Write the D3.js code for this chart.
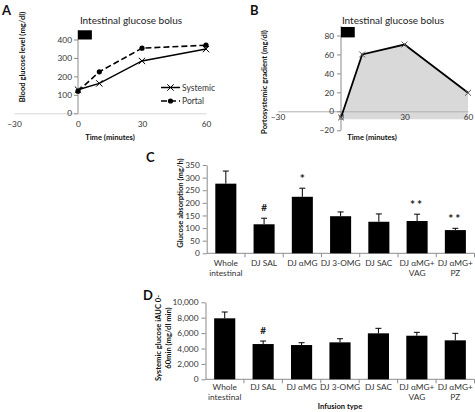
<!DOCTYPE html>
<html><head><meta charset="utf-8">
<script src="https://cdn.jsdelivr.net/npm/d3@7"></script>
<style>
body{margin:0;background:#fff;}
svg text{font-family:Lato, "Open Sans", sans-serif;}
</style></head><body>
<svg id="c" width="475" height="412"></svg>
<script>
// ---------- data ----------
const timeTicks = [-30, 0, 30, 60];
const timePoints = [0, 10, 30, 60];
const systemic = [128, 162, 284, 348];
const portal = [120, 225, 353, 369];
const glucoseTicksA = [0, 100, 200, 300, 400];
const gradientTimes = [0, 10, 30, 60];
const gradient = [-6.5, 60, 70.5, 19.5];
const gradientBase = -8.5;
const gradientTicks = [-20, 0, 20, 40, 60, 80];
const bolusWindow = [0, 6.5];

const categories = ["Whole|intestinal", "DJ SAL", "DJ αMG", "DJ 3-OMG", "DJ SAC", "DJ αMG+|VAG", "DJ αMG+|PZ"];
const absorption = [276, 115, 224, 147, 125, 128, 92];
const absorptionErr = [326, 139, 258, 164, 156, 155, 99];
const absorptionMarks = ["", "#", "*", "", "", "**", "**"];
const absorptionTicks = [0, 50, 100, 150, 200, 250, 300, 350];
const iauc = [7920, 4580, 4450, 4800, 5970, 5660, 5060];
const iaucErr = [8740, 4970, 4750, 5270, 6620, 6100, 5970];
const iaucMarks = ["", "#", "", "", "", "", ""];
const iaucTicks = [0, 2000, 4000, 6000, 8000, 10000];

const svg = d3.select("#c");
const axisCol = "#8c8c8c", txtCol = "#333";
const tickFs = 8.3, labFs = 7.6;

function letter(t, x, y){
  svg.append("text").attr("x", x).attr("y", y).text(t)
    .attr("font-family","Liberation Sans, Arial").attr("font-weight","bold").attr("font-size",13).attr("fill","#111");
}
function styleAxis(g){
  g.selectAll("path,line").attr("stroke", axisCol).attr("stroke-width", 1);
  g.selectAll("text").attr("fill", txtCol).attr("font-size", tickFs).attr("font-family","Lato, sans-serif");
}

// ---------- Panel A ----------
{
  const x = d3.scaleLinear().domain([-30, 60]).range([14, 206]);
  const y = d3.scaleLinear().domain([0, 400]).range([113.3, 39.5]);
  letter("A", 2, 15);
  svg.append("text").attr("x", 131).attr("y", 24).attr("text-anchor","middle").attr("font-size",10).attr("fill","#222").text("Intestinal glucose bolus");
  const gx = svg.append("g").attr("transform", `translate(0,${y(0)})`)
    .call(d3.axisBottom(x).tickValues(timeTicks).tickSize(0).tickPadding(6).tickSizeOuter(0));
  styleAxis(gx);
  gx.select(".domain").attr("stroke","#d8d8d8");
  gx.selectAll(".tick text").attr("dy","0.9em");
  const gy = svg.append("g").attr("transform", `translate(${x(0)},0)`)
    .call(d3.axisLeft(y).tickValues(glucoseTicksA).tickSize(4).tickPadding(2).tickSizeOuter(0));
  styleAxis(gy);
  gy.select(".domain").attr("d", `M0,${y(0)}V${y(450)}`);
  svg.append("rect").attr("x", x(bolusWindow[0])).attr("width", x(bolusWindow[1]) - x(bolusWindow[0]))
    .attr("y", y(450)).attr("height", y(400) - y(450)).attr("fill","#000");
  const line = d3.line().x((d,i)=>x(timePoints[i])).y(d=>y(d));
  svg.append("path").attr("d", line(systemic)).attr("fill","none").attr("stroke","#000").attr("stroke-width",1.5);
  svg.append("path").attr("d", line(portal)).attr("fill","none").attr("stroke","#000").attr("stroke-width",1.6).attr("stroke-dasharray","6,3");
  const xs = d3.symbol(d3.symbolX, 28);
  svg.selectAll(".sx").data(systemic).join("path").attr("d", xs).attr("transform",(d,i)=>`translate(${x(timePoints[i])},${y(d)})`).attr("stroke","#000").attr("fill","none");
  svg.selectAll(".px").data(portal).join("circle").attr("cx",(d,i)=>x(timePoints[i])).attr("cy",d=>y(d)).attr("r",2.6).attr("fill","#000");
  const lg = svg.append("g");
  lg.append("line").attr("x1",161).attr("x2",180).attr("y1",87.5).attr("y2",87.5).attr("stroke","#000").attr("stroke-width",1.5);
  lg.append("path").attr("d", xs).attr("transform","translate(170.5,87.5)").attr("stroke","#000").attr("fill","none");
  lg.append("text").attr("x",182).attr("y",90.5).attr("font-size",8.5).attr("fill",txtCol).text("Systemic");
  lg.append("line").attr("x1",161).attr("x2",180).attr("y1",101).attr("y2",101).attr("stroke","#000").attr("stroke-width",1.6).attr("stroke-dasharray","6,3");
  lg.append("circle").attr("cx",170.5).attr("cy",101).attr("r",2.6).attr("fill","#000");
  lg.append("text").attr("x",182).attr("y",104).attr("font-size",8.5).attr("fill",txtCol).text("Portal");
  svg.append("text").attr("x",110).attr("y",140).attr("text-anchor","middle").attr("font-size",labFs).attr("font-weight","bold").attr("fill","#111").text("Time (minutes)");
  svg.append("text").attr("transform","translate(25,57) rotate(-90)").attr("text-anchor","middle").attr("font-size",labFs).attr("font-weight","bold").attr("fill","#111").text("Blood glucose level (mg/dl)");
}

// ---------- Panel B ----------
{
  const x = d3.scaleLinear().domain([-30, 60]).range([277.5, 468]);
  const y = d3.scaleLinear().domain([0, 80]).range([111.3, 35.5]);
  letter("B", 250, 15);
  svg.append("text").attr("x", 393).attr("y", 24).attr("text-anchor","middle").attr("font-size",10).attr("fill","#222").text("Intestinal glucose bolus");
  const area = d3.area().x((d,i)=>x(gradientTimes[i])).y0(y(gradientBase)).y1(d=>y(d));
  svg.append("path").attr("d", area(gradient)).attr("fill","#d9d9d9");
  const gx = svg.append("g").attr("transform", `translate(0,${y(0)})`)
    .call(d3.axisBottom(x).tickValues(timeTicks).tickSize(0).tickPadding(3).tickSizeOuter(0));
  styleAxis(gx);
  gx.select(".domain").attr("stroke","#b0b0b0");
  const gy = svg.append("g").attr("transform", `translate(${x(0)},0)`)
    .call(d3.axisLeft(y).tickValues(gradientTicks).tickSize(4).tickPadding(3).tickSizeOuter(0));
  styleAxis(gy);
  gy.select(".domain").attr("d", `M0,${y(-20)}V${y(90)}`);
  svg.append("rect").attr("x", x(bolusWindow[0])).attr("width", x(bolusWindow[1]) - x(bolusWindow[0]))
    .attr("y", y(89)).attr("height", y(78) - y(89)).attr("fill","#000");
  const line = d3.line().x((d,i)=>x(gradientTimes[i])).y(d=>y(d));
  svg.append("path").attr("d", line(gradient)).attr("fill","none").attr("stroke","#000").attr("stroke-width",1.8);
  const xs = d3.symbol(d3.symbolX, 24);
  svg.selectAll(".gx").data(gradient).join("path").attr("d", xs).attr("transform",(d,i)=>`translate(${x(gradientTimes[i])},${y(d)})`).attr("stroke","#555").attr("fill","none");
  svg.append("text").attr("x",372).attr("y",140).attr("text-anchor","middle").attr("font-size",labFs).attr("font-weight","bold").attr("fill","#111").text("Time (minutes)");
  svg.append("text").attr("transform","translate(267,82) rotate(-90)").attr("text-anchor","middle").attr("font-size",labFs).attr("font-weight","bold").attr("fill","#111").text("Portosystemic gradient (mg/dl)");
}

// ---------- Bar panels ----------
function barPanel(opts){
  const {vals, errs, marks, ticks, dom, x0, x1, yb, yt, letterXY, ylab, ylabX, ylabY, catY} = opts;
  const x = d3.scaleBand().domain(categories).range([x0, x1]).paddingInner(0.45).paddingOuter(0.225);
  const xb = d3.scaleBand().domain(categories).range([x0, x1]);
  const y = d3.scaleLinear().domain(dom).range([yb, yt]);
  letter(letterXY[0], letterXY[1], letterXY[2]);
  const gy = svg.append("g").attr("transform",`translate(${x0},0)`)
    .call(d3.axisLeft(y).tickValues(ticks).tickSize(4).tickPadding(3).tickSizeOuter(0));
  styleAxis(gy);
  const gx = svg.append("g").attr("transform",`translate(0,${yb})`);
  gx.append("line").attr("x1",x0).attr("x2",x1).attr("stroke",axisCol);
  gx.selectAll(".bt").data(categories).join("line")
    .attr("x1",d=>xb(d)+xb.bandwidth()).attr("x2",d=>xb(d)+xb.bandwidth()).attr("y1",0).attr("y2",4).attr("stroke",axisCol);
  gx.selectAll(".cl").data(categories).join("text")
    .attr("x",d=>xb(d)+xb.bandwidth()/2).attr("y",catY-yb).attr("text-anchor","middle").attr("font-size",tickFs).attr("fill",txtCol)
    .each(function(d){
      const parts = d.split("|");
      const t = d3.select(this);
      parts.forEach((p,i)=>t.append("tspan").attr("x", xb(d)+xb.bandwidth()/2).attr("dy", i===0?0:10).text(p));
    });
  svg.selectAll(null).data(vals).join("rect")
    .attr("x",(d,i)=>x(categories[i])).attr("width",x.bandwidth())
    .attr("y",d=>y(d)).attr("height",d=>yb-y(d)).attr("fill","#000");
  const cx = i => x(categories[i]) + x.bandwidth()/2;
  svg.selectAll(null).data(errs).join("path")
    .attr("d",(d,i)=>`M${cx(i)},${y(vals[i])}V${y(d)}M${cx(i)-3},${y(d)}H${cx(i)+3}`)
    .attr("stroke","#000").attr("stroke-width",1).attr("fill","none");
  svg.selectAll(null).data(marks).join("text")
    .attr("x",(d,i)=>cx(i)).attr("y",(d,i)=>y(errs[i]) - (d==="#"?7:5)).attr("text-anchor","middle")
    .attr("font-size",d=>d==="#"?10:12).attr("font-weight","bold").attr("letter-spacing",d=>d==="**"?2:0).attr("fill","#222").text(d=>d);
  const yl = svg.append("text").attr("transform",`translate(${ylabX},${ylabY}) rotate(-90)`).attr("text-anchor","middle")
    .attr("font-size",labFs).attr("font-weight","bold").attr("fill","#111");
  ylab.forEach((l,i)=>yl.append("tspan").attr("x",0).attr("dy", i===0 ? (ylab.length>1?-5.5:0) : 10.5).text(l));
  return {x, y};
}

barPanel({vals:absorption, errs:absorptionErr, marks:absorptionMarks, ticks:absorptionTicks, dom:[0,350],
  x0:206.7, x1:474.5, yb:253.3, yt:165, letterXY:["C",146,162], ylab:["Glucose absorption (mg/h)"], ylabX:183, ylabY:203, catY:266});
barPanel({vals:iauc, errs:iaucErr, marks:iaucMarks, ticks:iaucTicks, dom:[0,10000],
  x0:205.5, x1:474.5, yb:379.3, yt:302.3, letterXY:["D",143,300], ylab:["Systemic glucose iAUC 0-","60min (mg/dl min)"], ylabX:166, ylabY:338, catY:390.5});
svg.append("text").attr("x",340).attr("y",409).attr("text-anchor","middle").attr("font-size",labFs).attr("font-weight","bold").attr("fill","#111").text("Infusion type");
</script>
</body></html>
